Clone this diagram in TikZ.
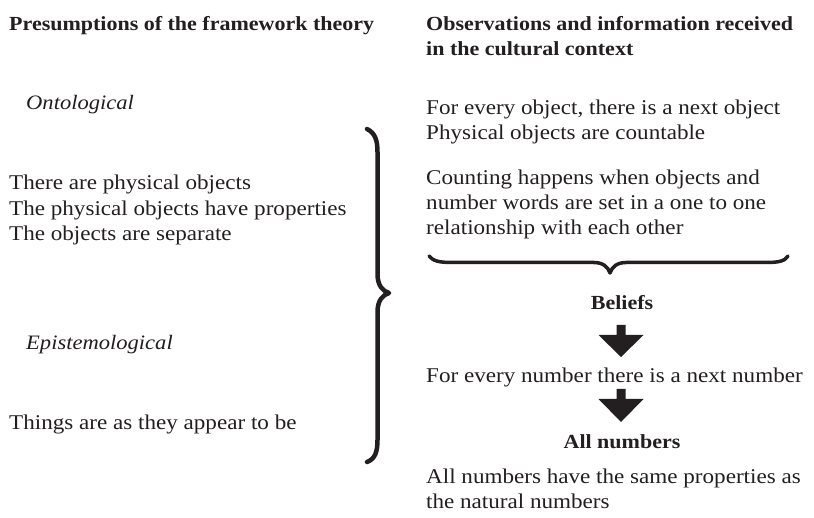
\documentclass[tikz,border=0pt]{standalone}
\usepackage{fontspec}
\setmainfont{Liberation Serif}[FakeStretch=1.1]
\definecolor{ink}{HTML}{231F20}
\begin{document}
\begin{tikzpicture}[x=1pt,y=-1pt,
  txt/.style={anchor=base west,inner sep=0pt,text=ink,font=\fontsize{21}{25}\selectfont},
  hd/.style={txt,font=\fontsize{20}{25}\selectfont\bfseries},
  hdc/.style={hd,anchor=base},
  it/.style={txt,font=\fontsize{20.5}{25}\selectfont\itshape},
  brace/.style={draw=ink,line cap=round,line join=round},
  blockarrow/.style={fill=ink}]
\fill[white] (0,0) rectangle (814,518);
\useasboundingbox (0,0) rectangle (814,518);

% left column
\node[hd] (h1) at (9,30.7) {Presumptions of the framework theory};
\node[it] (ont) at (26,110) {Ontological};
\node[txt] (l1) at (9,190) {There are physical objects};
\node[txt] (l2) at (9,215.5) {The physical objects have properties};
\node[txt] (l3) at (9,241) {The objects are separate};
\node[it] (epi) at (26,350) {Epistemological};
\node[txt] (thg) at (9,430) {Things are as they appear to be};

% right column
\node[hd] (h2a) at (426,30.7) {Observations and information received};
\node[hd] (h2b) at (426,55.5) {in the cultural context};
\node[txt] (r1) at (426,115) {For every object, there is a next object};
\node[txt] (r2) at (426,140) {Physical objects are countable};
\node[txt] (r3) at (426,185) {Counting happens when objects and};
\node[txt] (r4) at (426,210) {number words are set in a one to one};
\node[txt] (r5) at (426,235) {relationship with each other};
\node[hdc] (bel) at (622,310) {Beliefs};
\node[txt] (nxt) at (426,383) {For every number there is a next number};
\node[hdc] (alln) at (622,448) {All numbers};
\node[txt] (f1) at (426,483) {All numbers have the same properties as};
\node[txt] (f2) at (426,508) {the natural numbers};

% vertical brace
\draw[brace,line width=4.5pt]
  (367,129) .. controls (375,133) and (377.5,140) .. (377.5,152)
  -- (377.5,274) .. controls (377.5,286) and (383,291) .. (389,293)
  .. controls (383,295) and (377.5,300) .. (377.5,312)
  -- (377.5,440) .. controls (377.5,452) and (375,459) .. (367,462);

% horizontal brace
\draw[brace,line width=3.5pt]
  (429,256) .. controls (433,261) and (439,262.5) .. (452,262.5)
  -- (594,262.5) .. controls (603,262.5) and (608,267) .. (610,273)
  .. controls (612,267) and (617,262.5) .. (626,262.5)
  -- (766,262.5) .. controls (779,262.5) and (785,261) .. (788,256);

% block arrows
\coordinate (a1) at (621,325);
\coordinate (a2) at (621,389);
\fill[blockarrow] (a1) ++(-4.5,0) -- ++(9,0) -- ++(0,10) -- ++(18,0)
  -- ++(-22.5,22) -- ++(-22.5,-22) -- ++(18,0) -- cycle;
\fill[blockarrow] (a2) ++(-4.5,0) -- ++(9,0) -- ++(0,10) -- ++(18,0)
  -- ++(-22.5,23) -- ++(-22.5,-23) -- ++(18,0) -- cycle;
\end{tikzpicture}
\end{document}
